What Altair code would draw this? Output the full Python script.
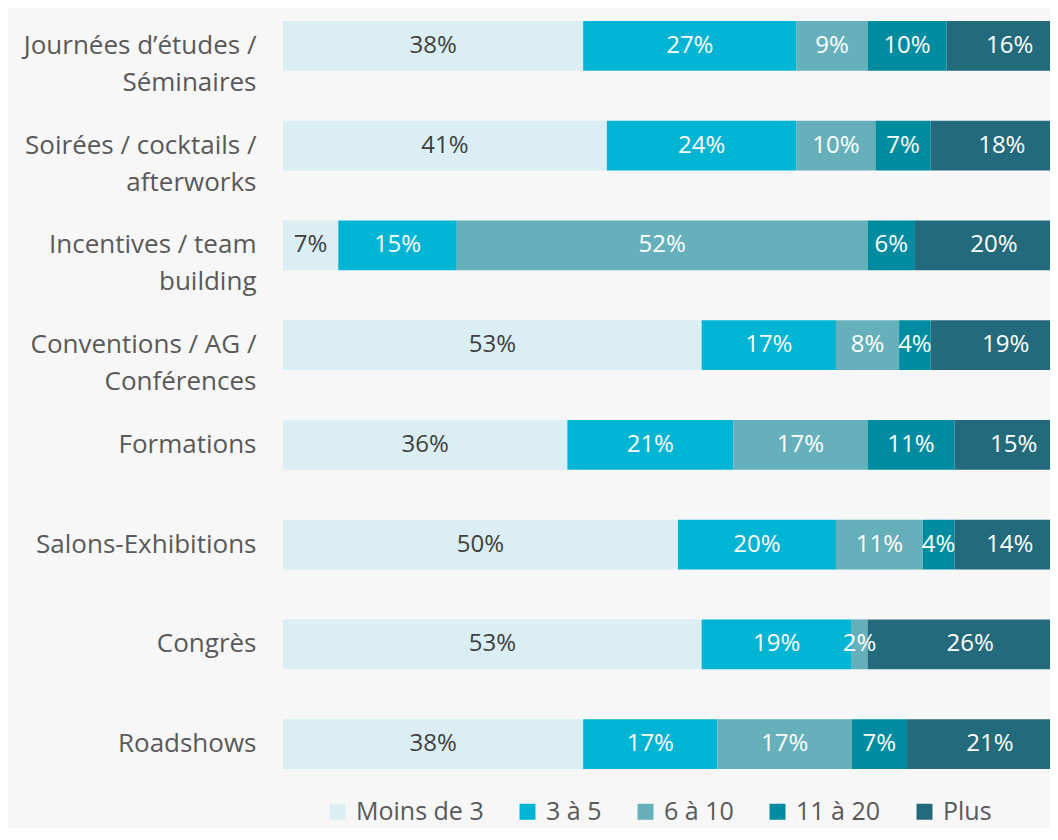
import altair as alt
import pandas as pd

categories = [
    "Journées d’études /|Séminaires",
    "Soirées / cocktails /|afterworks",
    "Incentives / team|building",
    "Conventions / AG /|Conférences",
    "Formations",
    "Salons-Exhibitions",
    "Congrès",
    "Roadshows",
]
groups = ["Moins de 3", "3 à 5", "6 à 10", "11 à 20", "Plus"]
colors = ["#DAEEF3", "#00B4D4", "#65B0BA", "#008CA0", "#236A7C"]

moins_de_3 = [38, 41, 7, 53, 36, 50, 53, 38]
de_3_a_5 = [27, 24, 15, 17, 21, 20, 19, 17]
de_6_a_10 = [9, 10, 52, 8, 17, 11, 2, 17]
de_11_a_20 = [10, 7, 6, 4, 11, 4, 0, 7]
plus = [16, 18, 20, 19, 15, 14, 26, 21]

series = [moins_de_3, de_3_a_5, de_6_a_10, de_11_a_20, plus]
rows = []
for gi, (g, vals) in enumerate(zip(groups, series)):
    for c, v in zip(categories, vals):
        rows.append({"cat": c, "group": g, "order": gi, "value": v})
df = pd.DataFrame(rows)

FONT = "Open Sans"

base = alt.Chart(df).transform_stack(
    stack="value",
    as_=["x0", "x1"],
    groupby=["cat"],
    sort=[alt.SortField("order", order="ascending")],
).transform_calculate(mid="(datum.x0 + datum.x1) / 2", label="datum.value + '%'")

xscale = alt.Scale(domain=[0, 97.1], nice=False, zero=True)
yscale = alt.Scale(paddingInner=0.5, paddingOuter=0.13)
yenc = alt.Y(
    "cat:N",
    sort=categories,
    scale=yscale,
    axis=alt.Axis(
        title=None,
        labelExpr="split(datum.value, '|')",
        labelFontSize=26,
        labelColor="#595959",
        labelPadding=27,
        labelLineHeight=37,
        labelLimit=320,
        ticks=False,
        domain=False,
        grid=False,
        labelFont=FONT,
    ),
)

bars = base.mark_bar(clip=True).encode(
    x=alt.X("x0:Q", scale=xscale, axis=None),
    x2="x1:Q",
    y=yenc,
    color=alt.Color(
        "group:N",
        scale=alt.Scale(domain=groups, range=colors),
        legend=alt.Legend(
            title=None,
            orient="none",
            direction="horizontal",
            legendX=42,
            legendY=791,
            symbolType="square",
            symbolSize=256,
            symbolStrokeWidth=0,
            labelFontSize=25,
            labelColor="#595959",
            labelFont=FONT,
            labelOffset=6,
            columnPadding=31,
            padding=0,
        ),
    ),
)

texts = base.transform_filter("datum.value > 0").mark_text(
    fontSize=24, font=FONT, baseline="middle", align="center"
).encode(
    x=alt.X("mid:Q", scale=xscale, axis=None),
    y=yenc,
    text="label:N",
    color=alt.condition(alt.datum.order == 0, alt.value("#404040"), alt.value("#FFFFFF")),
)

chart = (
    alt.layer(bars, texts)
    .properties(
        width=767,
        height=774,
        background="#F7F7F7",
        padding={"left": 275, "top": 0, "right": 0, "bottom": 46},
        autosize=alt.AutoSizeParams(type="none"),
    )
    .configure(font=FONT)
    .configure_view(stroke=None)
)

chart.save("out.html", embed_options={"renderer": "svg", "actions": False})
